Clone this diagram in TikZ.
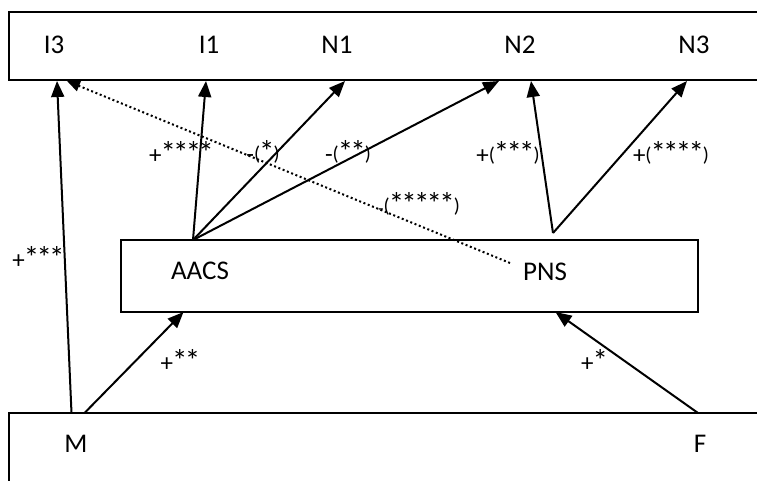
\documentclass[tikz,border=0pt]{standalone}
\usepackage{fontspec}
\setmainfont{Carlito}
\usetikzlibrary{arrows.meta}
\newcommand\sk{\kern-2.8pt}
\newcommand\bigst[1]{{\fontsize{31}{31}\selectfont\kern-1pt #1\kern-1pt}}
\newcommand\smallpar[1]{\raisebox{1.5pt}{\fontsize{20}{22}\selectfont #1}}
\begin{document}
\begin{tikzpicture}[x=1pt,y=-1pt,
  boxline/.style={draw=black,line width=2pt},
  lbl/.style={inner sep=0pt,font=\fontsize{27}{32}\selectfont},
  sgn/.style={inner sep=0pt,font=\fontsize{25}{28}\selectfont},
  conn/.style={line width=2pt,-{Triangle[length=16pt,width=13pt]}},
  dots/.style={line width=2pt,dash pattern=on 2pt off 2.6pt,-{Triangle[length=13pt,width=11pt]}}]
\useasboundingbox (0,0) rectangle (757,480);
\clip (0,0) rectangle (757,480);
\fill[white] (0,0) rectangle (757,480);
% boxes
\draw[boxline] (9,12) rectangle (790,80);
\draw[boxline] (121,240) rectangle (698,312);
\draw[boxline] (9,413) rectangle (790,520);
% texts
\node[lbl] (I3) at (54,45) {I3};
\node[lbl] (I1) at (209,45) {I1};
\node[lbl] (N1) at (337,45) {N1};
\node[lbl] (N2) at (520,45) {N2};
\node[lbl] (N3) at (694,45) {N3};
\node[lbl] (AACS) at (200,271) {AACS};
\node[lbl] (PNS) at (545,272) {PNS};
\node[lbl] (M) at (76,444) {M};
\node[lbl] (F) at (700,444) {F};
% anchor points
\coordinate (i3a) at (57,81);
\coordinate (i3b) at (67,81);
\coordinate (i1a) at (206,81);
\coordinate (n1a) at (345,81);
\coordinate (n2a) at (499,81);
\coordinate (n2b) at (531,81);
\coordinate (n3a) at (687,81);
\coordinate (aacsT) at (193,240);
\coordinate (aacsB) at (183.5,312);
\coordinate (pnsV) at (553,233);
\coordinate (pnsB) at (555.5,312);
\coordinate (pnsL) at (510,263);
\coordinate (mA) at (71.5,413);
\coordinate (mB) at (84.5,413);
\coordinate (fA) at (698,413);
% connectors
\draw[conn] (mA) -- (i3a);
\draw[conn] (mB) -- (aacsB);
\draw[conn] (fA) -- (pnsB);
\draw[conn] (aacsT) -- (i1a);
\draw[conn] (aacsT) -- (n1a);
\draw[conn] (aacsT) -- (n2a);
\draw[conn] (pnsV) -- (n2b);
\draw[conn] (pnsV) -- (n3a);
\draw[dots] (pnsL) -- (i3b);
% labels
\node[sgn] (l1) at (181,152) {+\bigst{*\sk*\sk*\sk*}};
\node[sgn] (l2) at (263,152) {-\smallpar{(}\bigst{*}\smallpar{)}};
\node[sgn] (l3) at (348,152) {-\smallpar{(}\bigst{*\sk*}\smallpar{)}};
\node[sgn] (l4) at (419,204) {{\fontsize{18}{20}\selectfont -}\smallpar{(}\bigst{*\sk*\sk*\sk*\sk*}\smallpar{)}};
\node[sgn] (l5) at (508,153) {+\smallpar{(}\bigst{*\sk*\sk*}\smallpar{)}};
\node[sgn] (l6) at (671,153) {+\smallpar{(}\bigst{*\sk*\sk*\sk*}\smallpar{)}};
\node[sgn] (l7) at (38,257) {+\bigst{*\sk*\sk*}};
\node[sgn] (l8) at (180,360) {+\bigst{*\sk*}};
\node[sgn] (l9) at (594,360) {+\bigst{*}};
\end{tikzpicture}
\end{document}
